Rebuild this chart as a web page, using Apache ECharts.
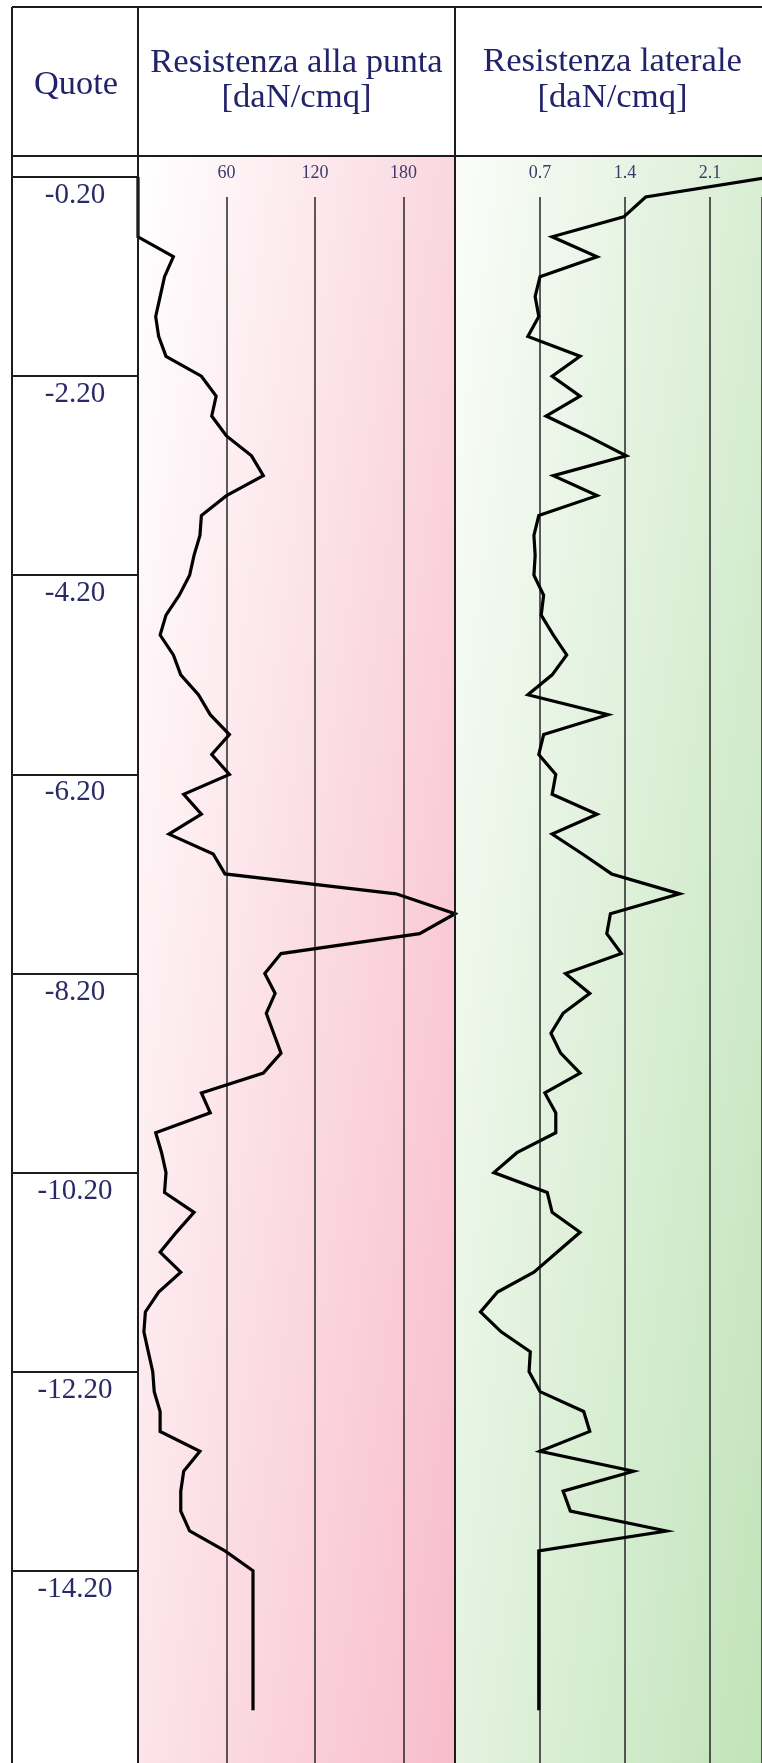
<!DOCTYPE html>
<html>
<head>
<meta charset="utf-8">
<style>
  html, body { margin: 0; padding: 0; background: #ffffff; }
  #chart { width: 762px; height: 1763px; }
</style>
<script src="https://cdn.jsdelivr.net/npm/echarts@6/dist/echarts.min.js"></script>
</head>
<body>
<div id="chart"></div>
<script>
// Penetration test log: depth (m) of each reading
const depths = [
  0.2, 0.4, 0.6, 0.8, 1.0, 1.2, 1.4, 1.6, 1.8, 2.0,
  2.2, 2.4, 2.6, 2.8, 3.0, 3.2, 3.4, 3.6, 3.8, 4.0,
  4.2, 4.4, 4.6, 4.8, 5.0, 5.2, 5.4, 5.6, 5.8, 6.0,
  6.2, 6.4, 6.6, 6.8, 7.0, 7.2, 7.4, 7.6, 7.8, 8.0,
  8.2, 8.4, 8.6, 8.8, 9.0, 9.2, 9.4, 9.6, 9.8, 10.0,
  10.2, 10.4, 10.6, 10.8, 11.0, 11.2, 11.4, 11.6, 11.8, 12.0,
  12.2, 12.4, 12.6, 12.8, 13.0, 13.2, 13.4, 13.6, 13.8, 14.0,
  14.2, 14.4, 14.6, 14.8, 15.0, 15.2, 15.4, 15.6
];

// Tip resistance [daN/cmq]
const puntaValues = [
  0, 0, 0, 0, 24, 18, 15, 12, 14, 19,
  43, 53, 50, 60, 77, 85, 60, 43, 42, 38,
  35, 28, 19, 15, 24, 29, 41, 49, 62, 50,
  62, 31, 43, 21, 51, 59, 175, 215, 191, 97,
  86, 93, 87, 92, 97, 85, 43, 49, 12, 16,
  19, 18, 38, 26, 15, 29, 14, 5, 4, 7,
  10, 11, 15, 15, 42, 31, 29, 29, 35, 59,
  78, 78, 78, 78, 78, 78, 78, 78
];

// Lateral (sleeve) resistance [daN/cmq]
const lateraleValues = [
  2.6, 1.57, 1.39, 0.80, 1.17, 0.70, 0.66, 0.69, 0.60, 1.03,
  0.80, 1.03, 0.75, 1.09, 1.41, 0.81, 1.17, 0.69, 0.65, 0.66,
  0.65, 0.73, 0.71, 0.81, 0.92, 0.80, 0.60, 1.26, 0.73, 0.69,
  0.83, 0.80, 1.17, 0.80, 1.05, 1.29, 1.85, 1.28, 1.25, 1.37,
  0.91, 1.11, 0.89, 0.79, 0.87, 1.03, 0.74, 0.83, 0.83, 0.51,
  0.32, 0.76, 0.80, 1.03, 0.84, 0.65, 0.35, 0.21, 0.38, 0.62,
  0.61, 0.70, 1.06, 1.11, 0.70, 1.47, 0.89, 0.95, 1.74, 0.69,
  0.69, 0.69, 0.69, 0.69, 0.69, 0.69, 0.69, 0.69
];

// Elevation labels of the "Quote" column, one every 2 m
const quoteLabels = ['-0.20', '-2.20', '-4.20', '-6.20', '-8.20', '-10.20', '-12.20', '-14.20'];

// Scale ticks shown above each panel
const puntaTicks = [60, 120, 180];
const lateraleTicks = [0.7, 1.4, 2.1];

// Column headers
const headers = {
  quote: 'Quote',
  punta: ['Resistenza alla punta', '[daN/cmq]'],
  laterale: ['Resistenza laterale', '[daN/cmq]']
};

// ---- layout ----
const W = 762, H = 1763;
const PX_PER_M = 99.55;         // vertical scale
const ROW_TOP = 177;            // y of the first row (depth 0.2 m)
const PLOT_TOP = 197;           // y where the panel grid lines begin
const PLOT_MIN = 0.4;           // depth at PLOT_TOP
const PLOT_MAX = PLOT_MIN + (H - PLOT_TOP) / PX_PER_M;
const COL_QUOTE = 12, COL_PUNTA = 138, COL_LAT = 455, PANEL_W = 317;
const LAT_W = W - COL_LAT;      // visible part of the lateral panel
const HEADER_TOP = 7, HEADER_BOTTOM = 156;
const LAT_MAX = LAT_W / 85 * 0.7;

const SERIF = "'Liberation Serif', 'Times New Roman', serif";
const NAVY = '#23236b';
const RULE = '#1c1c1c';

function panelGradient(x0, y0, c0, c1) {
  // diagonal wash: lighter top-left, deeper bottom-right
  return new echarts.graphic.LinearGradient(x0, y0, x0 + 519, y0 + 68, [
    { offset: 0, color: c0 },
    { offset: 1, color: c1 }
  ], true);
}

function tickFormatter(list, digits) {
  return function (v) {
    for (const t of list) {
      if (Math.abs(t - v) < 1e-6) return t.toFixed(digits);
    }
    return '';
  };
}

const chart = echarts.init(document.getElementById('chart'), null, { renderer: 'canvas' });

const tickLabelStyle = {
  fontFamily: SERIF,
  fontSize: 18,
  color: '#3b3b6c'
};

const option = {
  animation: false,
  backgroundColor: '#ffffff',
  grid: [
    { left: COL_QUOTE, top: ROW_TOP, width: COL_PUNTA - COL_QUOTE,
      height: (quoteLabels.length - 1) * 2 * PX_PER_M },
    { left: COL_PUNTA, top: PLOT_TOP, width: PANEL_W, height: H - PLOT_TOP },
    { left: COL_LAT, top: PLOT_TOP, width: LAT_W, height: H - PLOT_TOP }
  ],
  xAxis: [
    { gridIndex: 0, type: 'value', show: false, min: 0, max: 1 },
    {
      gridIndex: 1, type: 'value', position: 'top',
      min: 0, max: 215, interval: 60,
      axisLine: { show: false }, axisTick: { show: false },
      axisLabel: Object.assign({ margin: 15, showMinLabel: false, showMaxLabel: false,
        formatter: tickFormatter(puntaTicks, 0) }, tickLabelStyle),
      splitLine: { show: true, lineStyle: { color: '#262626', width: 1.5 } }
    },
    {
      gridIndex: 2, type: 'value', position: 'top',
      min: 0, max: LAT_MAX, interval: 0.7,
      axisLine: { show: false }, axisTick: { show: false },
      axisLabel: Object.assign({ margin: 15, showMinLabel: false, showMaxLabel: false,
        formatter: tickFormatter(lateraleTicks, 1) }, tickLabelStyle),
      splitLine: { show: true, lineStyle: { color: '#262626', width: 1.5 } }
    }
  ],
  yAxis: [
    {
      gridIndex: 0, type: 'category', inverse: true, boundaryGap: false,
      data: quoteLabels,
      axisLine: { show: false }, axisTick: { show: false },
      axisLabel: {
        interval: 0, inside: true, margin: (COL_PUNTA - COL_QUOTE) / 2,
        align: 'center', verticalAlign: 'top', padding: [4, 0, 0, 0],
        fontFamily: SERIF, fontSize: 29, color: '#2a2a66'
      },
      splitLine: { show: true, interval: 0, lineStyle: { color: RULE, width: 2 } }
    },
    {
      gridIndex: 1, type: 'value', inverse: true, min: PLOT_MIN, max: PLOT_MAX,
      show: false, splitLine: { show: false }
    },
    {
      gridIndex: 2, type: 'value', inverse: true, min: PLOT_MIN, max: PLOT_MAX,
      show: false, splitLine: { show: false }
    }
  ],
  series: [
    {
      name: 'Resistenza alla punta',
      type: 'line', xAxisIndex: 1, yAxisIndex: 1,
      data: depths.map((d, i) => [puntaValues[i], d]),
      symbol: 'none', clip: false, z: 5,
      lineStyle: { color: '#000000', width: 3.2, join: 'miter' }
    },
    {
      name: 'Resistenza laterale',
      type: 'line', xAxisIndex: 2, yAxisIndex: 2,
      data: depths.map((d, i) => [lateraleValues[i], d]),
      symbol: 'none', clip: false, z: 5,
      lineStyle: { color: '#000000', width: 3.2, join: 'miter' }
    }
  ],
  graphic: [
    // panel backgrounds
    { type: 'rect', z: -10, silent: true,
      shape: { x: COL_PUNTA, y: HEADER_BOTTOM, width: PANEL_W, height: H - HEADER_BOTTOM },
      style: { fill: panelGradient(COL_PUNTA, HEADER_BOTTOM, '#ffffff', '#f8bccb') } },
    { type: 'rect', z: -10, silent: true,
      shape: { x: COL_LAT, y: HEADER_BOTTOM, width: PANEL_W, height: H - HEADER_BOTTOM },
      style: { fill: panelGradient(COL_LAT, HEADER_BOTTOM, '#fbfdfa', '#c0e3b8') } },

    // table rules
    { type: 'line', z: 20, silent: true, shape: { x1: COL_QUOTE, y1: HEADER_TOP, x2: W, y2: HEADER_TOP },
      style: { stroke: RULE, lineWidth: 2 } },
    { type: 'line', z: 20, silent: true, shape: { x1: COL_QUOTE, y1: HEADER_BOTTOM, x2: W, y2: HEADER_BOTTOM },
      style: { stroke: RULE, lineWidth: 2 } },
    { type: 'line', z: 20, silent: true, shape: { x1: COL_QUOTE, y1: HEADER_TOP, x2: COL_QUOTE, y2: H },
      style: { stroke: RULE, lineWidth: 2 } },
    { type: 'line', z: 20, silent: true, shape: { x1: COL_PUNTA, y1: HEADER_TOP, x2: COL_PUNTA, y2: H },
      style: { stroke: RULE, lineWidth: 2 } },
    { type: 'line', z: 20, silent: true, shape: { x1: COL_LAT, y1: HEADER_TOP, x2: COL_LAT, y2: H },
      style: { stroke: RULE, lineWidth: 2 } },

    // headers
    { type: 'text', x: (COL_QUOTE + COL_PUNTA) / 2 + 1, y: 85, scaleX: 1.04, silent: true,
      style: { text: headers.quote, fontFamily: SERIF, fontSize: 33, fill: NAVY,
        align: 'center', verticalAlign: 'middle' } },
    { type: 'text', x: COL_PUNTA + PANEL_W / 2, y: 63, scaleX: 1.05, silent: true,
      style: { text: headers.punta[0], fontFamily: SERIF, fontSize: 33, fill: NAVY,
        align: 'center', verticalAlign: 'middle' } },
    { type: 'text', x: COL_PUNTA + PANEL_W / 2, y: 98, scaleX: 1.05, silent: true,
      style: { text: headers.punta[1], fontFamily: SERIF, fontSize: 33, fill: NAVY,
        align: 'center', verticalAlign: 'middle' } },
    { type: 'text', x: COL_LAT + PANEL_W / 2 - 1, y: 62, scaleX: 1.05, silent: true,
      style: { text: headers.laterale[0], fontFamily: SERIF, fontSize: 33, fill: NAVY,
        align: 'center', verticalAlign: 'middle' } },
    { type: 'text', x: COL_LAT + PANEL_W / 2 - 1, y: 98, scaleX: 1.05, silent: true,
      style: { text: headers.laterale[1], fontFamily: SERIF, fontSize: 33, fill: NAVY,
        align: 'center', verticalAlign: 'middle' } }
  ]
};

chart.setOption(option);
</script>
</body>
</html>
